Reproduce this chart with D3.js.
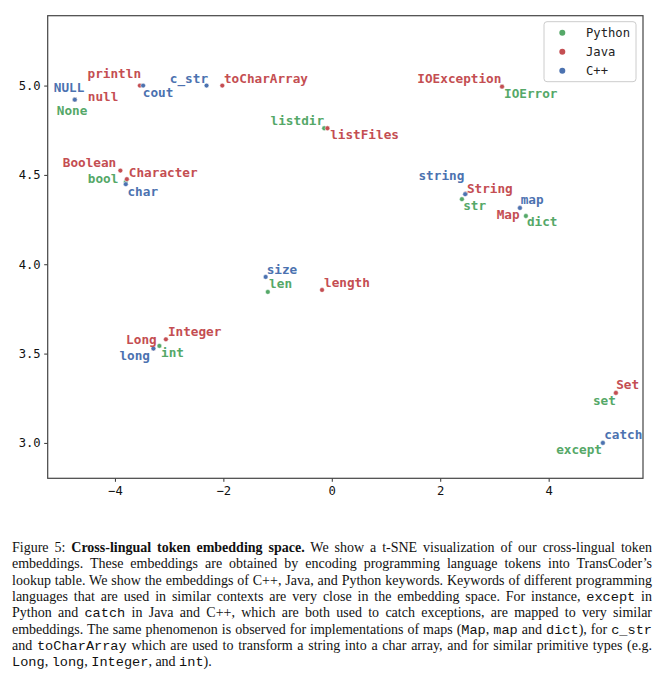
<!DOCTYPE html>
<html>
<head>
<meta charset="utf-8">
<script src="https://cdn.jsdelivr.net/npm/d3@7"></script>
<style>
  html, body { margin: 0; padding: 0; background: #fff; }
  #wrap { position: relative; width: 664px; height: 680px; overflow: hidden; }
  svg { position: absolute; left: 0; top: 0; }
  #caption { position: absolute; left: 12px; top: 540px; width: 640px;
    font-family: "Liberation Serif", "Times New Roman", serif; font-size: 14px; color: #111; }
  #caption .ln { height: 16.35px; line-height: 16.35px; text-align: justify; text-align-last: justify; }
  #caption .ln.last { text-align-last: left; }
  #caption code { font-family: "Liberation Mono", monospace; font-size: 13.6px; }
</style>
</head>
<body>
<div id="wrap">
<svg id="chart" width="664" height="530"></svg>
<div id="caption"></div>
</div>
<script>
// ---- data ----
const tokens    = ["None","bool","listdir","IOError","str","dict","len","int","set","except",
                   "null","println","toCharArray","Boolean","Character","listFiles","IOException","String","Map","length","Integer","Long","Set",
                   "NULL","cout","c_str","char","string","map","size","long","catch"];
const languages = ["Python","Python","Python","Python","Python","Python","Python","Python","Python","Python",
                   "Java","Java","Java","Java","Java","Java","Java","Java","Java","Java","Java","Java","Java",
                   "C++","C++","C++","C++","C++","C++","C++","C++","C++"];
const xValues   = [-4.74,-3.80,-0.14,3.14,2.40,3.58,-1.18,-3.18,5.24,5.00,
                   -4.74,-3.54,-2.02,-3.90,-3.78,-0.08,3.14,2.47,3.47,-0.18,-3.06,-3.29,5.24,
                   -4.74,-3.48,-2.31,-3.80,2.46,3.47,-1.22,-3.29,5.00];
const yValues   = [4.921,4.460,4.761,4.994,4.364,4.270,3.845,3.543,3.280,3.000,
                   4.921,5.000,5.000,4.524,4.476,4.761,4.994,4.395,4.315,3.856,3.580,3.528,3.280,
                   4.921,5.000,5.000,4.448,4.392,4.315,3.929,3.528,3.000];
const legendLabels = ["Python","Java","C++"];
const xTicks = [-4,-2,0,2,4];
const yTicks = [3.0,3.5,4.0,4.5,5.0];

// ---- label layout (pixel offsets from each point) ----
const labelDx = [-18,-38,-53.6,2,1.3,1,1.3,1.7,-23,-46.7,
                 13,-52.3,1.7,-57.6,2,2.7,-84.7,1.2,-23.3,2,2,-27.3,0.3,
                 -21,-0.3,-36.7,1.7,-46.7,0.7,1,-34,1.3];
const labelDy = [11.3,-4,-8,7.3,6.7,6,-8,6.7,7.3,7,
                 -2.7,-11.6,-7.3,-8,-7,6.7,-8,-4.7,7,-7.7,-7.6,-8.7,-8.3,
                 -12.4,7,-7.3,7,-18.6,-8,-7.7,7,-8.7];

// ---- styles ----
const colors = {"Python":"#55A868","Java":"#C44E52","C++":"#4C72B0"};
const mono = "'DejaVu Sans Mono', monospace";

const L = 47.7, R = 643, T = 15.7, B = 478.3;
const x = d3.scaleLinear().domain([-5.24, 5.74]).range([L, R]);
const y = d3.scaleLinear().domain([2.802, 5.391]).range([B, T]);

const svg = d3.select("#chart");

const pts = tokens.map((t,i)=>({t, lang: languages[i], x: xValues[i], y: yValues[i], dx: labelDx[i], dy: labelDy[i]}));

// axes
const xAxis = d3.axisBottom(x).tickValues(xTicks).tickSize(3.5).tickPadding(5)
  .tickFormat(d => (d < 0 ? "\u2212" : "") + Math.abs(d));
const yAxis = d3.axisLeft(y).tickValues(yTicks).tickSize(3.5).tickPadding(3.5)
  .tickFormat(d3.format(".1f"));

const gx = svg.append("g").attr("transform", `translate(0,${B})`).call(xAxis);
const gy = svg.append("g").attr("transform", `translate(${L},0)`).call(yAxis);
[gx, gy].forEach(g => {
  g.select(".domain").remove();
  g.selectAll(".tick line").attr("stroke", "#333").attr("stroke-width", 1);
  g.selectAll(".tick text").attr("fill", "#111").style("font-family", mono).style("font-size", "12.2px");
});

// frame
svg.append("rect").attr("x", L).attr("y", T).attr("width", R - L).attr("height", B - T)
  .attr("fill", "none").attr("stroke", "#444").attr("stroke-width", 1.2);

// points (Python, Java, C++ order)
const plot = svg.append("g");
plot.selectAll("circle").data(pts).join("circle")
  .attr("cx", d => x(d.x)).attr("cy", d => y(d.y)).attr("r", 2.4)
  .attr("fill", d => colors[d.lang]).attr("stroke", "#fff").attr("stroke-width", 0.5);

// labels
svg.append("g").selectAll("text").data(pts).join("text")
  .attr("x", d => x(d.x) + d.dx).attr("y", d => y(d.y) + d.dy)
  .attr("dominant-baseline", "central")
  .attr("fill", d => colors[d.lang])
  .style("font-family", mono).style("font-weight", "bold").style("font-size", "12.7px")
  .text(d => d.t);

// legend
const lg = svg.append("g");
lg.append("rect").attr("x", 544).attr("y", 21.7).attr("width", 92).attr("height", 60).attr("rx", 3)
  .attr("fill", "#fff").attr("fill-opacity", 0.85).attr("stroke", "#ccc").attr("stroke-width", 1);
const li = lg.selectAll("g.item").data(legendLabels).join("g").attr("class", "item")
  .attr("transform", (d,i) => `translate(0,${32.7 + i*19})`);
li.append("circle").attr("cx", 562.3).attr("cy", 0).attr("r", 3).attr("fill", d => colors[d]);
li.append("text").attr("x", 586).attr("y", 0).attr("dominant-baseline", "central")
  .attr("fill", "#222").style("font-family", mono).style("font-size", "12.2px").text(d => d);

// caption
const capLines = [
  [["n","Figure 5: "],["b","Cross-lingual token embedding space."],["n"," We show a t-SNE visualization of our cross-lingual token"]],
  [["n","embeddings. These embeddings are obtained by encoding programming language tokens into TransCoder\u2019s"]],
  [["n","lookup table. We show the embeddings of C++, Java, and Python keywords. Keywords of different programming"]],
  [["n","languages that are used in similar contexts are very close in the embedding space. For instance, "],["c","except"],["n"," in"]],
  [["n","Python and "],["c","catch"],["n"," in Java and C++, which are both used to catch exceptions, are mapped to very similar"]],
  [["n","embeddings. The same phenomenon is observed for implementations of maps ("],["c","Map"],["n",", "],["c","map"],["n"," and "],["c","dict"],["n","), for "],["c","c_str"]],
  [["n","and "],["c","toCharArray"],["n"," which are used to transform a string into a char array, and for similar primitive types (e.g."]],
  [["c","Long"],["n",", "],["c","long"],["n",", "],["c","Integer"],["n",", and "],["c","int"],["n",")."]]
];
const cap = d3.select("#caption");
capLines.forEach((line, i) => {
  const div = cap.append("div").attr("class", "ln" + (i === capLines.length - 1 ? " last" : ""));
  line.forEach(([k, s]) => {
    if (k === "n") div.append("span").text(s);
    else if (k === "b") div.append("b").text(s);
    else div.append("code").text(s);
  });
});
</script>
</body>
</html>
